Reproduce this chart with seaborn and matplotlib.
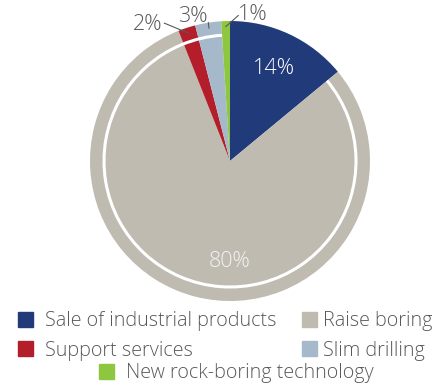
import matplotlib
matplotlib.use("Agg")
import matplotlib.pyplot as plt
import matplotlib.patches as mpatches
import numpy as np
import seaborn as sns

categories = ["Sale of industrial products", "Raise boring", "Support services",
              "Slim drilling", "New rock-boring technology"]
values = [14, 80, 2, 3, 1]
pct_labels = ["14%", "80%", "2%", "3%", "1%"]
colors = ["#213B7A", "#BFBBB1", "#B41E2A", "#A6B9CB", "#8DC63F"]

sns.set_theme(style="white")
plt.rcParams['font.family'] = ['Open Sans', 'DejaVu Sans']
plt.rcParams['font.weight'] = 'light'
text_grey = "#58595B"

fig = plt.figure(figsize=(4.36, 3.87), dpi=100)
ax = fig.add_axes([90/436, 86/387, 280/436, 280/387])

wedges, _ = ax.pie(values, colors=colors, startangle=90, counterclock=False,
                   radius=1.0, wedgeprops=dict(linewidth=0))
ax.set_xlim(-1, 1)
ax.set_ylim(-1, 1)
ax.set_aspect("equal")
ax.axis("off")
for w in wedges:
    w.set_clip_on(False)

# white ring over beige, red and slim slices
t_start = wedges[4].theta2
t_end = wedges[0].theta1 + 360
ring = mpatches.Arc((0, 0), 1.80, 1.80, theta1=t_start, theta2=t_end,
                    color="white", lw=2.2)
ax.add_patch(ring)

pfs = 15.5
th = np.deg2rad((wedges[0].theta1 + wedges[0].theta2) / 2)
ax.text(0.73*np.cos(th), 0.73*np.sin(th), pct_labels[0], color="white",
        fontsize=pfs, ha="center", va="center")
ax.text(0, -0.72, pct_labels[1], color="#F2F2F2", fontsize=pfs,
        ha="center", va="center")

text_pos = {2: (-0.59, 0.975), 3: (-0.265, 1.035), 4: (0.165, 1.05)}
line_end = {2: (-0.47, 0.985), 3: (-0.155, 0.99), 4: (0.06, 1.04)}
for i in (2, 3, 4):
    ang = np.deg2rad((wedges[i].theta1 + wedges[i].theta2) / 2)
    x0, y0 = 0.96*np.cos(ang), 0.96*np.sin(ang)
    lx, ly = line_end[i]
    ax.plot([x0, lx], [y0, ly], color=text_grey, lw=0.8, clip_on=False)
    tx, ty = text_pos[i]
    ax.text(tx, ty, pct_labels[i], color=text_grey, fontsize=pfs,
            ha="center", va="center", clip_on=False)

lfs = 14.2
handles = [mpatches.Patch(color=c) for c in colors]
common = dict(frameon=False, fontsize=lfs, handlelength=0.76, handleheight=0.76,
              borderpad=0, borderaxespad=0, labelspacing=0.47,
              labelcolor=text_grey, loc="upper left")
leg1 = fig.legend([handles[0], handles[2]], [categories[0], categories[2]],
                  bbox_to_anchor=(18/436, 0.1954), handletextpad=0.61, **common)
leg2 = fig.legend([handles[1], handles[3]], [categories[1], categories[3]],
                  bbox_to_anchor=(302/436, 0.1954), handletextpad=0.3, **common)
leg3 = fig.legend([handles[4]], [categories[4]],
                  bbox_to_anchor=(99/436, 0.061), handletextpad=0.61, **common)

fig.savefig("out.png", dpi=100)
